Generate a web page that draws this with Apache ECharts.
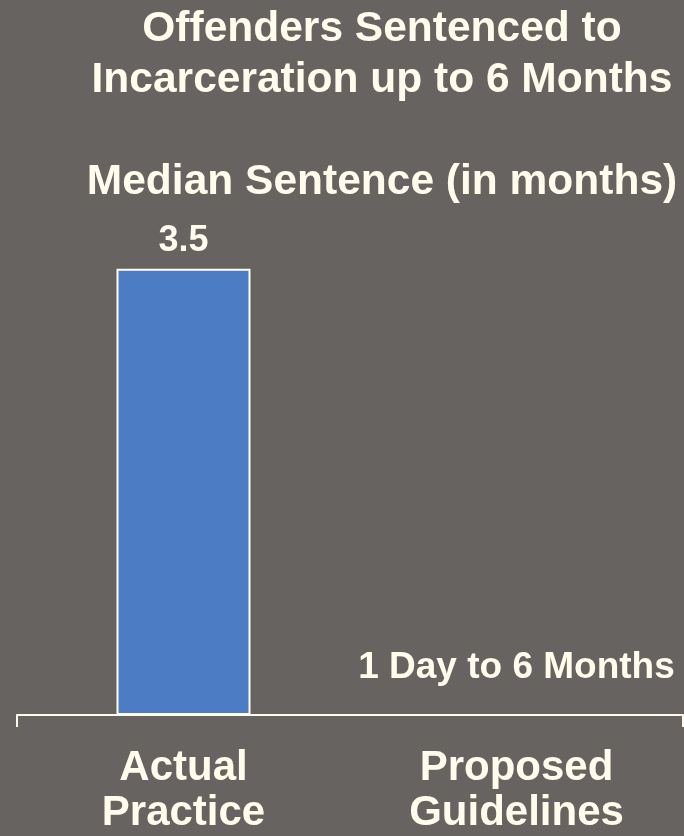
<!DOCTYPE html>
<html>
<head>
<meta charset="utf-8">
<script src="https://cdn.jsdelivr.net/npm/echarts@6/dist/echarts.min.js"></script>
<style>
html,body{margin:0;padding:0;background:#676361;}
#chart{width:684px;height:836px;}
</style>
</head>
<body>
<div id="chart"></div>
<script>
// chart data
var categories = ['Actual\nPractice', 'Proposed\nGuidelines'];
var medianMonths = [3.5, 0];
var barLabels = ['3.5', '1 Day to 6 Months'];
var titleText = 'Offenders Sentenced to\nIncarceration up to 6 Months\n\nMedian Sentence (in months)';

var textColor = '#fffcec';
var fontFam = '"Liberation Sans", Arial, sans-serif';

var myChart = echarts.init(document.getElementById('chart'));
myChart.setOption({
    backgroundColor: '#676361',
    animation: false,
    title: {
        text: titleText,
        left: 377,
        top: -1,
        textAlign: 'center',
        textStyle: {
            color: textColor,
            fontSize: 42.5,
            fontWeight: 'bold',
            fontFamily: fontFam,
            lineHeight: 51
        }
    },
    grid: {
        left: 17,
        right: 1,
        top: 205,
        bottom: 119
    },
    xAxis: [{
        type: 'category',
        data: categories,
        axisLine: {lineStyle: {color: textColor, width: 2}},
        axisTick: {show: false},
        axisLabel: {
            color: textColor,
            fontSize: 42,
            fontWeight: 'bold',
            fontFamily: fontFam,
            lineHeight: 45,
            margin: 31
        }
    }, {
        // only used to draw the two end ticks
        type: 'value',
        min: 0,
        max: 2,
        interval: 2,
        position: 'bottom',
        axisLine: {show: false},
        axisLabel: {show: false},
        splitLine: {show: false},
        axisTick: {show: true, length: 12, lineStyle: {color: textColor, width: 2}}
    }],
    yAxis: {
        type: 'value',
        min: 0,
        max: 4,
        show: false
    },
    series: [{
        type: 'bar',
        barWidth: 134,
        data: medianMonths.map(function (v, i) {
            return {
                value: v,
                label: i === 0 ? {distance: 10} : {distance: 28, fontSize: 37}
            };
        }),
        itemStyle: {
            color: '#4b7cc4',
            borderColor: '#fffcec',
            borderWidth: 2
        },
        label: {
            show: true,
            position: 'top',
            color: textColor,
            fontSize: 36,
            fontWeight: 'bold',
            fontFamily: fontFam,
            formatter: function (p) { return barLabels[p.dataIndex]; }
        }
    }]
});
</script>
</body>
</html>
